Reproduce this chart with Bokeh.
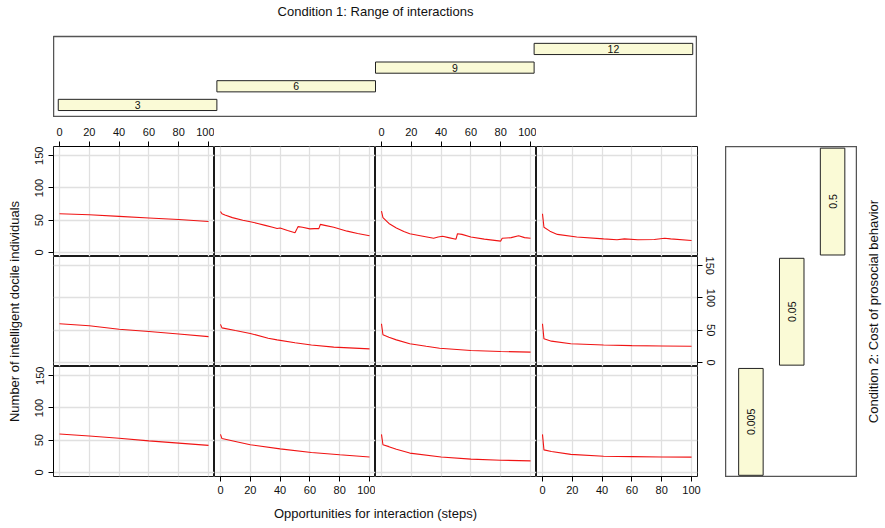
import math
from bokeh.plotting import figure
from bokeh.layouts import row, column
from bokeh.models import LinearAxis, FixedTicker, Grid, Spacer, Range1d, ColumnDataSource
from bokeh.core.properties import value
from bokeh.embed import file_html
from bokeh.resources import INLINE

FONT = "Liberation Sans"

# ---------------- data ----------------
range_levels = ["3", "6", "9", "12"]          # Condition 1 (columns, left to right)
cost_levels = ["0.005", "0.05", "0.5"]        # Condition 2 (rows, bottom to top)

x_ticks = [0, 20, 40, 60, 80, 100]
y_ticks = [0, 50, 100, 150]

# cost 0.5 (top row)
x_c05_r3 = [0, 20, 40, 60, 80, 100]
y_c05_r3 = [60, 58.5, 56, 53.5, 51, 48]
x_c05_r6 = [0, 1, 3, 8, 15, 20, 25, 30, 35, 38, 40, 45, 50, 51, 52, 55, 60, 63, 66, 67, 70, 76, 85, 92, 100]
y_c05_r6 = [63.5, 60, 58, 54, 50, 47.5, 45, 42, 39, 37, 38, 34, 30.5, 35, 40, 39, 36.5, 37, 37, 43.5, 42, 39, 33, 29.5, 26]
x_c05_r9 = [0, 1, 5, 10, 15, 19, 26, 35, 38, 41, 45, 50, 51, 54, 60, 69, 80, 81, 87, 92, 96, 100]
y_c05_r9 = [64, 54, 45, 38, 32.5, 29, 26, 22, 24, 25, 23, 20.5, 29, 28, 24, 20.7, 17.6, 22, 23, 26, 23, 22]
x_c05_r12 = [0, 1, 5, 10, 23, 41, 50, 55, 64, 75, 82, 86, 100]
y_c05_r12 = [60, 39, 33, 28, 24, 21, 19.7, 21, 19.7, 20, 22, 21, 18.6]

# cost 0.05 (middle row)
x_c005_r3 = [0, 20, 40, 60, 80, 100]
y_c005_r3 = [60, 57, 51.5, 48, 44, 40]
x_c005_r6 = [0, 1, 10, 20, 32, 38, 50, 61, 76, 100]
y_c005_r6 = [59, 53.6, 49.5, 45, 37.6, 35, 30.5, 27, 23.7, 21]
x_c005_r9 = [0, 1, 5, 10, 19, 30, 39, 60, 80, 100]
y_c005_r9 = [60, 43, 39, 35, 29, 25, 22, 18.5, 17, 16]
x_c005_r12 = [0, 1, 6, 19, 41, 60, 80, 100]
y_c005_r12 = [60, 36.6, 33, 29, 27, 26, 25.5, 25]

# cost 0.005 (bottom row)
x_c0005_r3 = [0, 20, 40, 60, 80, 100]
y_c0005_r3 = [59.5, 56.5, 53, 49, 45.5, 42]
x_c0005_r6 = [0, 1, 10, 20, 40, 61, 80, 100]
y_c0005_r6 = [59, 52.5, 48, 43, 36.6, 31, 27.5, 24]
x_c0005_r9 = [0, 1, 5, 10, 19, 40, 60, 80, 100]
y_c0005_r9 = [59, 43, 40, 36, 30, 24, 20.6, 19, 18]
x_c0005_r12 = [0, 1, 6, 19, 41, 60, 80, 100]
y_c0005_r12 = [59, 35, 32.5, 28, 25, 24.5, 24, 23.7]

series = {
    "0.5":   [(x_c05_r3, y_c05_r3), (x_c05_r6, y_c05_r6), (x_c05_r9, y_c05_r9), (x_c05_r12, y_c05_r12)],
    "0.05":  [(x_c005_r3, y_c005_r3), (x_c005_r6, y_c005_r6), (x_c005_r9, y_c005_r9), (x_c005_r12, y_c005_r12)],
    "0.005": [(x_c0005_r3, y_c0005_r3), (x_c0005_r6, y_c0005_r6), (x_c0005_r9, y_c0005_r9), (x_c0005_r12, y_c0005_r12)],
}

# ---------------- styles ----------------
PANEL_W, PANEL_H = 161, 110
LEFT_B, RIGHT_B, TOP_B, BOT_B = 23, 28, 29, 27
YLAB_W, C2LAB_W = 30, 28
BAR_FILL = "#fafad6"
TEXT_COL = "#111111"
GRID_COL = "#e0e0e0"
LINE_COL = "#f01414"
LABEL_SIZE = "13px"


def base_fig(w, h, xr, yr, l=0, r=0, t=0, b=0):
    p = figure(width=w, height=h, x_range=xr, y_range=yr,
               toolbar_location=None, output_backend="svg",
               x_axis_location=None, y_axis_location=None,
               min_border_left=l, min_border_right=r,
               min_border_top=t, min_border_bottom=b)
    for g in list(p.grid):
        g.visible = False
    p.center = []
    p.background_fill_color = "white"
    p.border_fill_color = "white"
    return p


STANDOFF = {"above": 6, "below": 4, "left": 5, "right": 4}


def add_axis(p, side):
    ticks = x_ticks if side in ("above", "below") else y_ticks
    ax = LinearAxis(ticker=FixedTicker(ticks=ticks))
    ax.bounds = (ticks[0], ticks[-1])
    ax.axis_line_color = "black"
    ax.axis_line_width = 1
    ax.major_tick_out = 5
    ax.major_tick_in = 0
    ax.minor_tick_out = 0
    ax.minor_tick_in = 0
    ax.major_tick_line_color = "black"
    ax.major_label_text_font = FONT
    ax.major_label_text_font_size = "11px"
    ax.major_label_text_color = TEXT_COL
    ax.major_label_standoff = STANDOFF[side]
    if side in ("left", "right"):
        ax.major_label_orientation = "vertical"
    p.add_layout(ax, side)


def panel(ci, ri):
    cost = cost_levels[2 - ri]
    l = LEFT_B if ci == 0 else 0
    r = RIGHT_B if ci == 3 else 0
    t = TOP_B if ri == 0 else 0
    b = BOT_B if ri == 2 else 0
    p = base_fig(PANEL_W + l + r, PANEL_H + t + b,
                 Range1d(-4, 104), Range1d(-6.3, 164.3), l, r, t, b)
    p.outline_line_color = "black"
    p.outline_line_width = 0.9
    p.add_layout(Grid(dimension=0, ticker=FixedTicker(ticks=x_ticks),
                      grid_line_color=GRID_COL, grid_line_width=1.3))
    p.add_layout(Grid(dimension=1, ticker=FixedTicker(ticks=y_ticks),
                      grid_line_color=GRID_COL, grid_line_width=1.3))
    xs, ys = series[cost][ci]
    p.line(xs, ys, line_color=LINE_COL, line_width=1.1)
    if ri == 0 and ci in (0, 2):
        add_axis(p, "above")
    if ri == 2 and ci in (1, 3):
        add_axis(p, "below")
    if ci == 0 and ri in (0, 2):
        add_axis(p, "left")
    if ci == 3 and ri == 1:
        add_axis(p, "right")
    return p


def text_fig(w, h, txt, fx, fy, angle=0.0, size=LABEL_SIZE):
    p = base_fig(w, h, Range1d(0, 1), Range1d(0, 1))
    p.outline_line_color = None
    p.text(x=[fx], y=[fy], text=[txt], angle=angle,
           text_align="center", text_baseline="middle",
           text_font=value(FONT), text_font_size=size, text_color=TEXT_COL)
    return p


# ---------------- Condition 1 box ----------------
n1 = len(range_levels)
top_src = ColumnDataSource(dict(
    left=[k for k in range(n1)],
    right=[k + 1 for k in range(n1)],
    xc=[k + 0.5 for k in range(n1)],
    lev=[k + 1 for k in range(n1)],
    bot=[k + 1 - 0.3 for k in range(n1)],
    top=[k + 1 + 0.3 for k in range(n1)],
    label=range_levels,
))
tb = base_fig(644, 93, Range1d(-0.03, 4.03), Range1d(0.327, 4.667), t=12)
tb.outline_line_color = "#555555"
tb.outline_line_width = 1.5
tb.quad(left="left", right="right", bottom="bot", top="top", source=top_src,
        fill_color=BAR_FILL, line_color="#222222", line_width=1)
tb.text(x="xc", y="lev", text="label", source=top_src, text_align="center",
        text_baseline="middle", text_font=value(FONT), text_font_size="10.5px",
        text_color=TEXT_COL)

# ---------------- Condition 2 box ----------------
n2 = len(cost_levels)
side_src = ColumnDataSource(dict(
    left=[k + 1 - 0.3 for k in range(n2)],
    right=[k + 1 + 0.3 for k in range(n2)],
    xc=[k + 1 for k in range(n2)],
    bot=[k + 0.015 for k in range(n2)],
    top=[k + 0.985 for k in range(n2)],
    yc=[k + 0.5 for k in range(n2)],
    label=cost_levels,
))
sb = base_fig(132, 331, Range1d(0.378, 3.61), Range1d(-0.005, 3.0))
sb.outline_line_color = "#555555"
sb.outline_line_width = 1.5
sb.quad(left="left", right="right", bottom="bot", top="top", source=side_src,
        fill_color=BAR_FILL, line_color="#222222", line_width=1)
sb.text(x="xc", y="yc", text="label", source=side_src, angle=math.pi / 2,
        text_align="center", text_baseline="middle", text_font=value(FONT),
        text_font_size="10.5px", text_color=TEXT_COL)

# ---------------- assemble ----------------
grid_rows = [row(*[panel(ci, ri) for ci in range(4)]) for ri in range(3)]
grid_col = column(*grid_rows)

main_h = (PANEL_H * 3) + TOP_B + BOT_B
center_frac = 1 - (TOP_B + PANEL_H * 1.5) / main_h

ylab = text_fig(YLAB_W, main_h, "Number of intelligent docile individuals", 14 / YLAB_W,
                center_frac, angle=math.pi / 2)
c2lab = text_fig(C2LAB_W, main_h, "Condition 2: Cost of prosocial behavior", 16 / C2LAB_W,
                 center_frac, angle=math.pi / 2)
right_col = column(Spacer(width=132, height=TOP_B), sb, Spacer(width=132, height=BOT_B - 1))

lead = YLAB_W + LEFT_B
title = text_fig(644, 24, "Condition 1: Range of interactions", 0.5, 0.55)
xlab = text_fig(644, 25, "Opportunities for interaction (steps)", 0.5, 0.6)

layout = column(
    row(Spacer(width=lead, height=24), title),
    row(Spacer(width=lead, height=93), tb),
    row(ylab, grid_col, right_col, c2lab),
    row(Spacer(width=lead, height=25), xlab),
)

open("out.html", "w").write(file_html(layout, INLINE))
